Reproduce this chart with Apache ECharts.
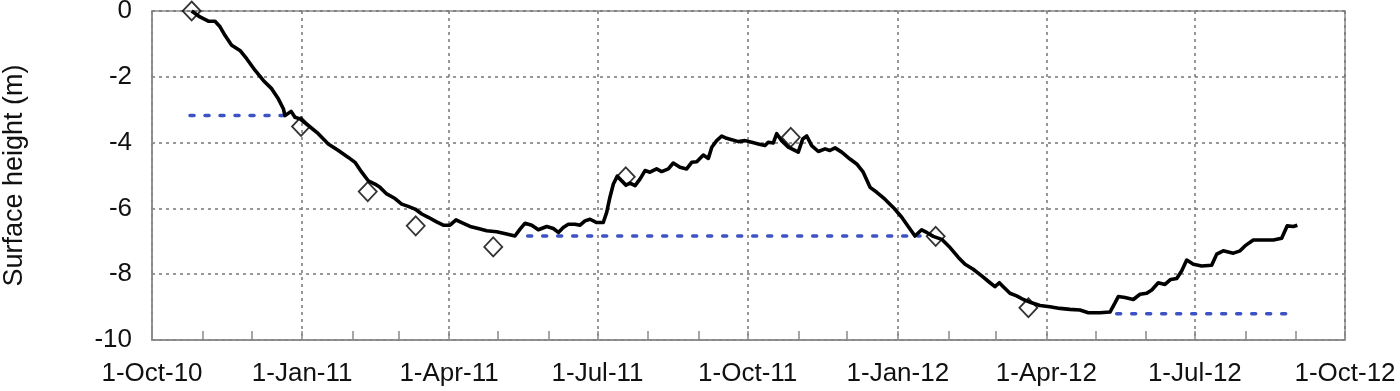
<!DOCTYPE html>
<html><head><meta charset="utf-8">
<script src="https://cdn.jsdelivr.net/npm/echarts@6.0.0/dist/echarts.min.js"></script>
<style>html,body{margin:0;padding:0;background:#fff}#c{width:1400px;height:391px}</style>
</head><body><div id="c"></div>
<script>
// ---- data (days counted from 1-Oct-10) ----
const heightDays = [24.3,29.4,34.5,38.6,41.7,44.7,48.8,53.9,58.0,63.1,68.2,73.3,77.4,80.5,81.5,85.2,87.6,90.7,95.8,101.9,108.0,114.2,120.3,124.4,128.5,132.5,136.6,139.7,143.8,148.9,153.0,157.0,161.2,165.3,169.3,174.4,178.5,182.6,186.3,189.8,194.9,199.9,205.1,211.2,217.3,222.4,225.5,228.6,232.7,236.7,241.9,245.9,249.0,252.0,255.1,259.2,262.3,265.3,268.4,272.5,276.5,278.6,280.6,282.7,285.1,287.8,290.4,292.9,296.0,299.0,302.1,305.1,309.2,312.3,316.4,319.4,323.5,327.6,330.7,333.8,337.8,340.9,343.0,346.0,349.1,352.1,355.2,359.3,363.4,367.5,371.5,375.6,377.6,380.7,382.8,385.8,389.9,396.0,398.7,401.2,404.2,408.3,412.4,415.4,418.5,422.6,427.7,431.8,435.8,440.0,444.1,449.1,454.2,459.4,462.4,467.5,471.6,474.7,478.7,483.9,489.0,494.1,498.2,503.2,508.4,513.5,516.5,519.2,521.6,525.7,529.8,533.9,539.0,544.1,550.2,556.4,562.5,568.6,573.7,580.9,587.0,589.0,592.1,596.2,601.3,605.4,609.5,612.6,616.6,620.7,624.2,627.9,630.9,634.0,638.1,643.2,649.3,652.4,656.4,662.6,666.7,669.7,674.8,680.9,687.1,692.2,695.6,699.3,701.8];
const heightValues = [0.0,-0.18,-0.31,-0.31,-0.48,-0.74,-1.04,-1.20,-1.45,-1.80,-2.11,-2.36,-2.67,-2.97,-3.18,-3.05,-3.23,-3.28,-3.48,-3.73,-4.04,-4.24,-4.45,-4.60,-4.90,-5.16,-5.26,-5.36,-5.56,-5.70,-5.87,-5.94,-6.02,-6.17,-6.27,-6.41,-6.51,-6.51,-6.35,-6.43,-6.55,-6.61,-6.68,-6.71,-6.78,-6.84,-6.63,-6.45,-6.51,-6.65,-6.55,-6.61,-6.73,-6.58,-6.48,-6.48,-6.51,-6.38,-6.33,-6.43,-6.43,-6.12,-5.66,-5.26,-5.02,-5.16,-5.29,-5.23,-5.31,-5.11,-4.85,-4.90,-4.80,-4.88,-4.80,-4.62,-4.75,-4.80,-4.60,-4.58,-4.38,-4.48,-4.14,-3.94,-3.80,-3.87,-3.91,-3.97,-3.94,-3.99,-4.04,-4.09,-3.99,-4.01,-3.73,-3.94,-4.14,-4.29,-3.89,-3.80,-4.09,-4.27,-4.19,-4.24,-4.16,-4.29,-4.50,-4.65,-4.90,-5.36,-5.51,-5.72,-5.97,-6.27,-6.48,-6.84,-6.65,-6.73,-6.85,-6.94,-7.19,-7.49,-7.70,-7.85,-8.05,-8.26,-8.38,-8.26,-8.38,-8.58,-8.66,-8.77,-8.87,-8.95,-8.99,-9.04,-9.07,-9.09,-9.17,-9.17,-9.15,-8.97,-8.68,-8.71,-8.77,-8.61,-8.58,-8.48,-8.26,-8.31,-8.16,-8.13,-7.90,-7.57,-7.70,-7.75,-7.73,-7.39,-7.29,-7.36,-7.29,-7.14,-6.96,-6.96,-6.96,-6.91,-6.53,-6.55,-6.51];
const surveyDays = [24.3,91.3,132.2,161.6,209.1,290.3,391.4,480.2,537.0];
const surveyValues = [0.0,-3.51,-5.49,-6.53,-7.17,-5.04,-3.84,-6.85,-9.02];
const refStartDays = [23.3,230.2,591.1];
const refEndDays = [84.6,470.6,699.3];
const refLevels = [-3.18,-6.84,-9.20];
const monthTicks = ['2010-10','2010-11','2010-12','2011-01','2011-02','2011-03','2011-04','2011-05','2011-06','2011-07','2011-08','2011-09','2011-10','2011-11','2011-12','2012-01','2012-02','2012-03','2012-04','2012-05','2012-06','2012-07','2012-08','2012-09','2012-10'];
const quarterLabels = ['1-Oct-10','1-Jan-11','1-Apr-11','1-Jul-11','1-Oct-11','1-Jan-12','1-Apr-12','1-Jul-12','1-Oct-12'];

// ---- helpers ----
const MON = ['Jan','Feb','Mar','Apr','May','Jun','Jul','Aug','Sep','Oct','Nov','Dec'];
const DAY = 86400000;
const t0 = Date.UTC(2010, 9, 1);
const dayToTime = d => t0 + d * DAY;
const monthTimes = monthTicks.map(s => { const [y, m] = s.split('-').map(Number); return Date.UTC(y, m - 1, 1); });
const quarterTimes = quarterLabels.map(s => { const p = s.split('-'); return Date.UTC(2000 + Number(p[2]), MON.indexOf(p[1]), Number(p[0])); });
const labelOf = {};
quarterTimes.forEach((t, i) => labelOf[t] = quarterLabels[i]);

const font = 'Liberation Sans, Arial, sans-serif';
const xMin = monthTimes[0], xMax = monthTimes[monthTimes.length - 1];

const series = [];
refLevels.forEach((lv, i) => {
  series.push({
    type: 'line', xAxisIndex: 0, silent: true, showSymbol: false, z: 2,
    data: [[dayToTime(refStartDays[i]), lv], [dayToTime(refEndDays[i]), lv]],
    lineStyle: { color: '#3d52c4', width: 3.5, type: [4, 11], cap: 'round' }
  });
});
series.push({
  type: 'line', xAxisIndex: 0, silent: true, showSymbol: false, z: 3,
  data: heightDays.map((d, i) => [dayToTime(d), heightValues[i]]),
  lineStyle: { color: '#000', width: 3.6, join: 'round' }
});
series.push({
  type: 'scatter', xAxisIndex: 0, silent: true, z: 4,
  symbol: 'diamond', symbolSize: [18, 19],
  data: surveyDays.map((d, i) => [dayToTime(d), surveyValues[i]]),
  itemStyle: { color: 'rgba(255,255,255,0)', borderColor: '#000', borderWidth: 1.8 }
});

const chart = echarts.init(document.getElementById('c'), null, { renderer: 'canvas' });
chart.setOption({
  animation: false,
  backgroundColor: '#fff',
  grid: { left: 152, right: 55, top: 11, bottom: 51, show: true, borderColor: '#8a8a8a', borderWidth: 1.5, containLabel: false, outerBoundsMode: 'none' },
  xAxis: [
    {
      type: 'value', min: xMin, max: xMax, position: 'bottom',
      axisLine: { show: true, onZero: false, lineStyle: { color: '#8a8a8a', width: 1.5 } },
      axisTick: { show: true, inside: true, length: 9, customValues: monthTimes, lineStyle: { color: '#8a8a8a', width: 1.5 } },
      axisLabel: {
        show: true, customValues: quarterTimes, margin: 21, color: '#111',
        fontFamily: font, fontSize: 26, showMinLabel: true, showMaxLabel: true, hideOverlap: false,
        formatter: v => labelOf[v] || ''
      },
      splitLine: { show: false }
    },
    {
      type: 'value', min: xMin, max: xMax, position: 'top',
      axisLine: { show: false, onZero: false },
      axisTick: { show: false, customValues: quarterTimes },
      axisLabel: { show: false },
      splitLine: { show: true, lineStyle: { color: '#777', width: 1.5, type: [3, 4] } }
    }
  ],
  yAxis: {
    type: 'value', min: -10, max: 0, interval: 2,
    name: 'Surface height (m)', nameLocation: 'middle', nameGap: 124,
    nameTextStyle: { fontFamily: font, fontSize: 27, color: '#111' },
    axisLine: { show: true, onZero: false, lineStyle: { color: '#8a8a8a', width: 1.5 } },
    axisTick: { show: false },
    axisLabel: { margin: 20, fontFamily: font, fontSize: 26, color: '#111' },
    splitLine: { show: true, lineStyle: { color: '#777', width: 1.5, type: [3, 4] } }
  },
  series: series
});
</script>
</body></html>
